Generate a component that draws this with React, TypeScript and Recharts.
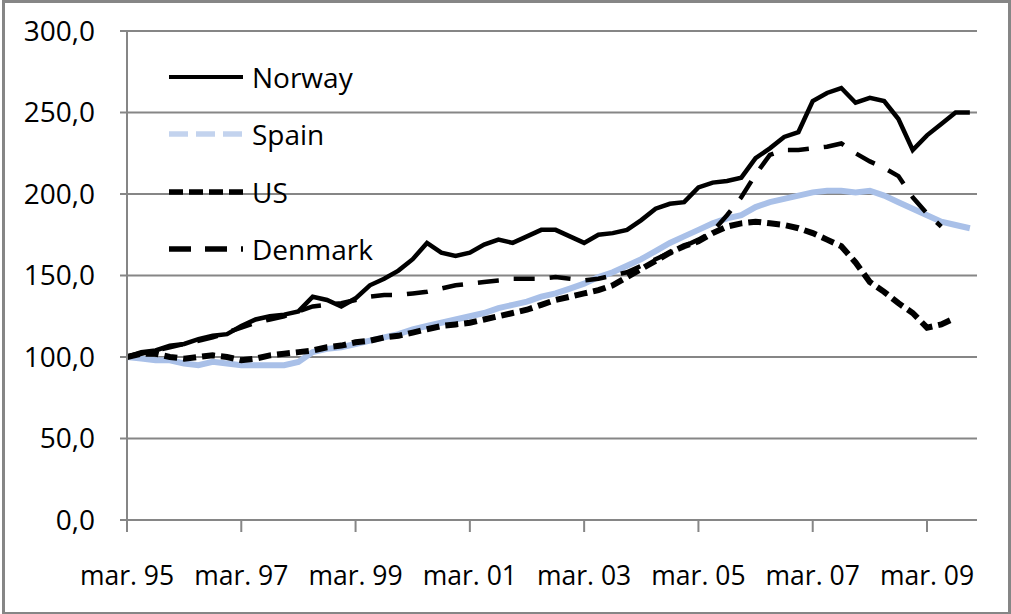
import { LineChart, Line, XAxis, YAxis, CartesianGrid } from 'recharts'

// quarterly index values, mar.95 = 100 (mar.95 .. dec.09)
const norway = [
  100, 103, 104, 107, 108, 111, 113, 114, 119, 123, 125, 126, 128, 137, 135, 131,
  136, 144, 148, 153, 160, 170, 164, 162, 164, 169, 172, 170, 174, 178, 178, 174,
  170, 175, 176, 178, 184, 191, 194, 195, 204, 207, 208, 210, 222, 228, 235, 238,
  257, 262, 265, 256, 259, 257, 246, 227, 236, 243, 250, 250,
]
const spain = [
  100, 99, 98, 98, 96, 95, 97, 96, 95, 95, 95, 95, 97, 103, 105, 106,
  108, 110, 112, 114, 117, 119, 121, 123, 125, 127, 130, 132, 134, 137, 139, 142,
  145, 149, 152, 156, 160, 165, 170, 174, 178, 182, 185, 187, 192, 195, 197, 199,
  201, 202, 202, 201, 202, 199, 195, 191, 187, 183, 181, 179,
]
const us = [
  100, 102, 102, 100, 99, 100, 101, 100, 98, 99, 101, 102, 103, 104, 106, 107,
  109, 110, 112, 113, 115, 117, 119, 120, 121, 123, 125, 127, 129, 132, 135, 137,
  139, 141, 144, 149, 154, 159, 164, 168, 171, 176, 180, 182, 183, 182, 181, 179,
  176, 172, 168, 158, 146, 140, 133, 127, 118, 120, 124, null,
]
const denmark = [
  100, 102, 104, 106, 108, 110, 112, 115, 118, 121, 123, 125, 128, 131, 132, 133,
  135, 137, 138, 138, 139, 140, 142, 144, 145, 146, 147, 148, 148, 148, 149, 148,
  147, 148, 150, 152, 156, 160, 164, 168, 172, 177, 187, 198, 212, 224, 227, 227,
  228, 229, 231, 225, 220, 216, 211, 198, 188, 180, null, null,
]

const tickIdx = [0, 8, 16, 24, 32, 40, 48, 56]
const tickLabels = ['mar. 95', 'mar. 97', 'mar. 99', 'mar. 01', 'mar. 03', 'mar. 05', 'mar. 07', 'mar. 09']
const yTicks = [0, 50, 100, 150, 200, 250, 300]

const data = norway.map((v, i) => ({
  q: i,
  norway: v,
  spain: spain[i],
  us: us[i],
  denmark: denmark[i],
}))

const series = [
  { key: 'norway', name: 'Norway', color: '#000000', legendColor: '#000000', width: 4.5, dash: undefined, legendDash: undefined },
  { key: 'spain', name: 'Spain', color: '#A9C0E8', legendColor: '#C3D3EE', width: 6, dash: undefined, legendDash: '19 8' },
  { key: 'us', name: 'US', color: '#000000', legendColor: '#000000', width: 6, dash: '13 6', legendDash: '14 6' },
  { key: 'denmark', name: 'Denmark', color: '#000000', legendColor: '#000000', width: 4.5, dash: '21 15', legendDash: '22 14' },
]

const FONT = '"Open Sans", sans-serif'
const GRAY = '#868686'

function LegendBox() {
  return (
    <div style={{ position: 'absolute', top: 48, left: 169, fontFamily: FONT }}>
      {series.map((s) => (
        <div key={s.key} style={{ display: 'flex', alignItems: 'center', height: 57.5 }}>
          <svg width={74} height={10} style={{ display: 'block' }}>
            <line
              x1={0} y1={5} x2={74} y2={5}
              stroke={s.legendColor}
              strokeWidth={s.key === 'norway' ? 4 : 5.5}
              strokeDasharray={s.legendDash}
            />
          </svg>
          <span style={{ fontSize: 28, color: '#000', marginLeft: 9, lineHeight: 1 }}>{s.name}</span>
        </div>
      ))}
    </div>
  )
}

export default function App() {
  return (
    <div style={{ position: 'relative', width: 1011, height: 614, background: '#fff' }}>
      <style>{'body{margin:0}'}</style>
      <LineChart
        width={1011}
        height={614}
        data={data}
        margin={{ top: 31, right: 34, bottom: 0, left: 0 }}
      >
        <CartesianGrid vertical={false} stroke={GRAY} strokeWidth={2} />
        <XAxis
          dataKey="q"
          type="number"
          domain={[0, 59.5]}
          ticks={tickIdx}
          tickFormatter={(v: number) => tickLabels[tickIdx.indexOf(v)] ?? ''}
          height={94}
          stroke={GRAY}
          strokeWidth={2}
          tickSize={12}
          tickMargin={34}
          tick={{ fill: '#000', fontSize: 26.5, fontFamily: FONT }}
          interval={0}
        />
        <YAxis
          domain={[0, 300]}
          ticks={yTicks}
          width={127}
          tickFormatter={(v: number) => v.toFixed(1).replace('.', ',')}
          stroke={GRAY}
          strokeWidth={2}
          tickSize={7}
          tickMargin={25}
          tick={{ fill: '#000', fontSize: 28, fontFamily: FONT }}
          interval={0}
        />
        {series.map((s) => (
          <Line
            key={s.key}
            dataKey={s.key}
            name={s.name}
            stroke={s.color}
            strokeWidth={s.width}
            strokeDasharray={s.dash}
            dot={false}
            activeDot={false}
            type="linear"
            isAnimationActive={false}
          />
        ))}
      </LineChart>
      <LegendBox />
      <div
        style={{
          position: 'absolute', left: 2, top: 0, width: 1003, height: 609,
          border: `3px solid ${GRAY}`, pointerEvents: 'none',
        }}
      />
    </div>
  )
}
